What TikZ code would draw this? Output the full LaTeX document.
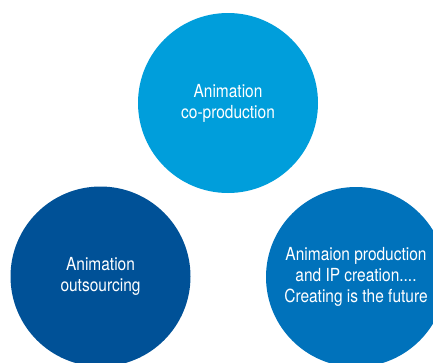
\documentclass[tikz,border=0pt]{standalone}
\usepackage{fontspec}
\newfontfamily\condfont[FakeStretch=0.86]{TeX Gyre Heros}
\usetikzlibrary{positioning}

\definecolor{topblue}{RGB}{0,158,219}
\definecolor{darkblue}{RGB}{0,81,151}
\definecolor{midblue}{RGB}{0,114,187}

\begin{document}
\begin{tikzpicture}[
    x=1pt, y=-1pt,
    % Big filled circles, white text
    idea_circle/.style={circle, minimum size=180pt, inner sep=0pt, draw=none,
        text=white, align=center, font=\condfont\fontsize{18}{21}\selectfont}
]

    \useasboundingbox (0,0) rectangle (433,362);
    \clip (0,0) rectangle (433,362);

    % --- TOP ---
    \node[idea_circle, fill=topblue] (coprod) at (228,103) {Animation\\co-production};

    % --- BOTTOM LEFT ---
    \node[idea_circle, fill=darkblue] (outsrc) at (100.5,276.5) {Animation\\outsourcing};

    % --- BOTTOM RIGHT ---
    \node[idea_circle, fill=midblue] (ipcreate) at (356,277) {Animaion production\\and IP creation....\\Creating is the future};

\end{tikzpicture}
\end{document}
